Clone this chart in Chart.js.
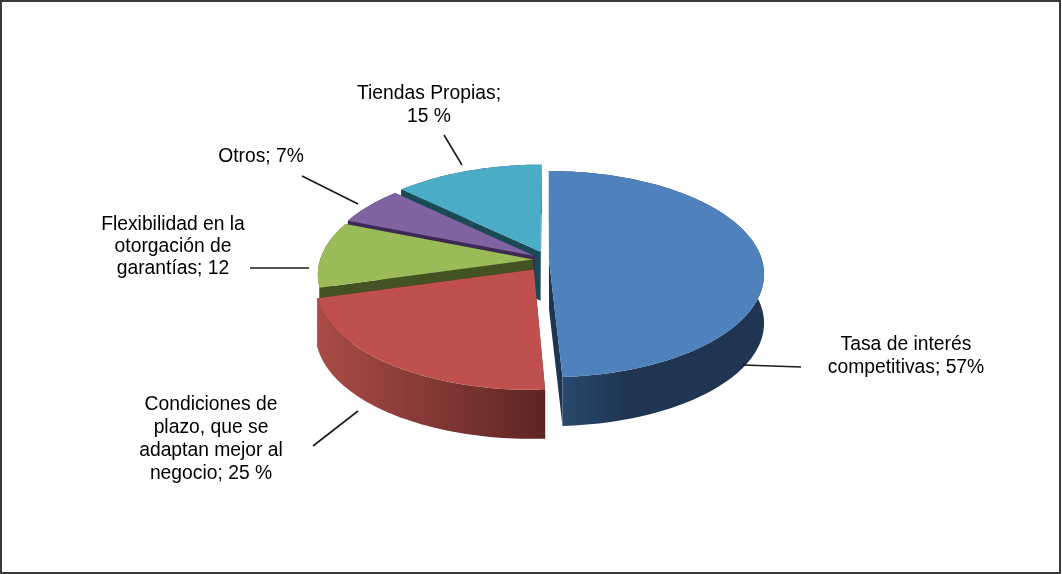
<!DOCTYPE html>
<html lang="es">
<head>
<meta charset="utf-8">
<title>Motivos de preferencia</title>
<style>
  html, body { margin: 0; padding: 0; background: #fff; }
  canvas { display: block; }
</style>
</head>
<body>
<canvas id="pie3d" width="1062" height="574"></canvas>
<script src="https://cdn.jsdelivr.net/npm/chart.js@4/dist/chart.umd.min.js"></script>
<script>
const categories = ['Tasa de interés competitivas', 'Condiciones de plazo, que se adaptan mejor al negocio', 'Flexibilidad en la otorgación de garantías', 'Otros', 'Tiendas Propias'];
const values = [57, 25, 12, 7, 15];
const sliceColors = ['#4F81BD', '#C0504D', '#9BBB59', '#8064A2', '#4BACC6'];
const sliceOffsets = [1, 24, 15, 16, 19];

// side faces: cut faces are flat, the rim fades left to right
const cutColors = ['#1F3552', '#5E2523', '#435223', '#3D2A54', '#1B4A57'];
const rimStops = [
  [[0, '#2C4D74'], [0.35, '#1F3552'], [1, '#1F3552']],
  [[0, '#A94C48'], [1, '#5E2523']],
  [[0, '#435223'], [1, '#435223']],
  [[0, '#3D2A54'], [1, '#3D2A54']],
  [[0, '#1B4A57'], [1, '#1B4A57']]
];

const labelLines = [
  ['Tasa de interés', 'competitivas; 57%'],
  ['Condiciones de', 'plazo, que se', 'adaptan mejor al', 'negocio; 25 %'],
  ['Flexibilidad en la', 'otorgación de', 'garantías; 12'],
  ['Otros; 7%'],
  ['Tiendas Propias;', '15 %']
];
const labelCenters = [[906, 344.5], [211, 405], [173, 225], [261, 157], [429, 94]];
const labelLineGap = [23, 22.8, 22, 0, 23];
const leaders = [
  [743, 365, 801, 367],
  [358, 411, 313, 446],
  [250, 268, 309, 268],
  [302, 176, 358, 204],
  [444, 135, 462, 165]
];

const TILT = 0.475;     // vertical squash of the disc
const PERSP = 0.137;    // far side shrinks, near side grows
const DEPTH = 49;       // thickness in px

// maps a point on the disc (radius units, v pointing away) to canvas px
function project(arc, u, v){
  const w = 1 + PERSP * v;
  return [arc.x + arc.outerRadius * u / w, arc.y - arc.outerRadius * TILT * v / w];
}

function sliceShape(arc){
  const r = arc.outerRadius;
  const mid = (arc.startAngle + arc.endAngle) / 2;
  const off = (arc.options.offset || 0) / r;
  const ou = Math.cos(mid) * off, ov = -Math.sin(mid) * off;
  const rim = [];
  const steps = Math.max(8, Math.ceil((arc.endAngle - arc.startAngle) * 40));
  for (let i = 0; i <= steps; i++) {
    const a = arc.startAngle + (arc.endAngle - arc.startAngle) * i / steps;
    rim.push(project(arc, ou + Math.cos(a), ov - Math.sin(a)));
  }
  return { apex: project(arc, ou, ov), rim };
}

function tracePoly(ctx, pts){
  ctx.beginPath();
  pts.forEach((p, i) => i ? ctx.lineTo(p[0], p[1]) : ctx.moveTo(p[0], p[1]));
  ctx.closePath();
}

function drop(p){ return [p[0], p[1] + DEPTH]; }

const pie3dPlugin = {
  id: 'pie3d',
  beforeDraw(chart){
    const { ctx, width, height } = chart;
    ctx.save();
    ctx.fillStyle = '#fff';
    ctx.fillRect(0, 0, width, height);
    ctx.strokeStyle = '#3a3a3a';
    ctx.lineWidth = 2;
    ctx.strokeRect(1, 1, width - 3, height - 2);
    ctx.restore();
  },
  // replaces the flat arcs, geometry still comes from the arc elements
  beforeDatasetsDraw(chart){
    const { ctx } = chart;
    const arcs = chart.getDatasetMeta(0).data;
    // back slices first, blue goes last because it sits in front of the cut
    [4, 3, 2, 1, 0].forEach(i => {
      const arc = arcs[i];
      const { apex, rim } = sliceShape(arc);
      const first = rim[0], last = rim[rim.length - 1];

      ctx.fillStyle = cutColors[i];
      tracePoly(ctx, [apex, first, drop(first), drop(apex)]);
      ctx.fill();
      tracePoly(ctx, [apex, last, drop(last), drop(apex)]);
      ctx.fill();

      const xs = rim.map(p => p[0]);
      const grad = ctx.createLinearGradient(Math.min(...xs), 0, Math.max(...xs), 0);
      rimStops[i].forEach(s => grad.addColorStop(s[0], s[1]));
      ctx.fillStyle = grad;
      tracePoly(ctx, rim.concat(rim.slice().reverse().map(drop)));
      ctx.fill();

      ctx.fillStyle = arc.options.backgroundColor;
      tracePoly(ctx, [apex].concat(rim));
      ctx.fill();
    });
    return false;
  },
  afterDraw(chart){
    const { ctx } = chart;
    ctx.save();
    ctx.strokeStyle = '#1a1a1a';
    ctx.lineWidth = 1.6;
    leaders.forEach(l => {
      ctx.beginPath();
      ctx.moveTo(l[0], l[1]);
      ctx.lineTo(l[2], l[3]);
      ctx.stroke();
    });
    ctx.fillStyle = '#000';
    ctx.font = '19.3px "Liberation Sans", Arial, sans-serif';
    ctx.textAlign = 'center';
    ctx.textBaseline = 'middle';
    labelLines.forEach((lines, i) => {
      lines.forEach((t, j) => ctx.fillText(t, labelCenters[i][0], labelCenters[i][1] + j * labelLineGap[i]));
    });
    ctx.restore();
  }
};

new Chart(document.getElementById('pie3d'), {
  type: 'pie',
  data: {
    labels: categories,
    datasets: [{ data: values, backgroundColor: sliceColors, offset: sliceOffsets, borderWidth: 0 }]
  },
  options: {
    responsive: false,
    animation: false,
    devicePixelRatio: 1,
    radius: 213,
    layout: { padding: { left: 34, bottom: 54 } },
    plugins: { legend: { display: false }, tooltip: { enabled: false } }
  },
  plugins: [pie3dPlugin]
});
</script>
</body>
</html>
